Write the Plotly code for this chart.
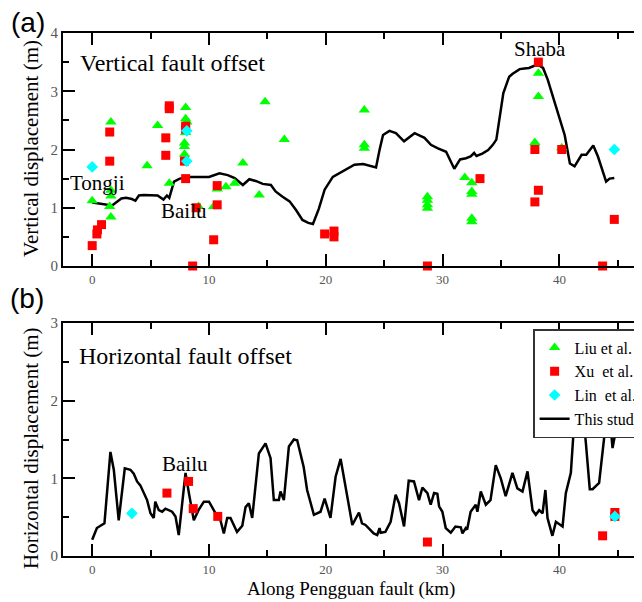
import plotly.graph_objects as go

# ---------------- data ----------------
# Panel (a): vertical offset, this study (profile)
vert_x = [0.0, 0.6, 1.2, 1.7, 2.1, 2.5, 2.9, 3.4, 3.7, 4.0, 4.4, 4.9, 5.6, 6.1, 6.4, 6.6, 7.0, 7.5, 8.3, 9.4,
          10.0, 10.3, 10.9, 11.6, 12.2, 12.9, 13.45, 14.0, 14.6, 15.3, 15.7, 16.3, 16.9, 17.45, 18.0, 18.5, 18.9,
          19.4, 19.9, 20.6, 21.4, 22.0, 22.45, 23.2, 23.9, 24.3, 24.6, 24.9, 25.45, 26.0, 26.7, 27.2, 27.6, 28.45,
          29.0, 29.6, 30.3, 31.0, 31.5, 32.0, 32.4, 32.7, 32.9, 33.4, 33.9, 34.3, 34.6, 35.2, 35.7, 36.0, 36.6,
          37.0, 37.4, 37.9, 38.3, 38.6, 39.0, 39.7, 40.45, 40.9, 41.3, 41.9, 42.3, 42.9, 43.3, 44.0, 44.3, 44.7]
vert_y = [1.09, 1.07, 1.06, 1.04, 1.10, 1.16, 1.17, 1.15, 1.12, 1.21, 1.22, 1.22, 1.21, 1.14, 1.21, 1.17, 1.45, 1.50, 1.53, 1.53,
          1.53, 1.55, 1.59, 1.56, 1.51, 1.39, 1.49, 1.46, 1.41, 1.39, 1.28, 1.19, 1.11, 0.96, 0.79, 0.74, 0.72,
          0.98, 1.31, 1.53, 1.62, 1.68, 1.74, 1.75, 1.71, 1.69, 1.99, 2.25, 2.32, 2.28, 2.14, 2.22, 2.28, 2.20,
          2.08, 2.02, 1.96, 1.67, 1.83, 1.85, 1.88, 1.94, 1.89, 1.93, 1.99, 2.08, 2.17, 2.97, 3.25, 3.30, 3.38,
          3.39, 3.40, 3.44, 3.44, 3.40, 3.20, 2.74, 2.25, 1.76, 1.71, 1.91, 1.91, 2.07, 1.88, 1.45, 1.50, 1.51]

liu_v_x = [0.0, 1.6, 1.6, 1.6, 1.5, 1.6, 4.7, 5.6, 6.6, 8.0, 8.0, 8.1, 8.0, 7.9, 7.9, 7.9, 9.1, 10.4, 10.7, 11.45,
           12.2, 12.9, 14.3, 14.8, 16.45, 23.3, 23.3, 23.3, 28.7, 28.7, 28.7, 28.7, 31.9, 32.5, 32.5, 32.5, 32.5,
           32.5, 38.2, 38.2, 37.9, 40.2]
liu_v_y = [1.12, 2.47, 1.30, 1.20, 1.02, 0.84, 1.72, 2.41, 1.42, 2.72, 2.53, 2.47, 2.29, 2.11, 2.05, 1.92, 1.02, 1.02, 1.32, 1.36,
           1.42, 1.77, 1.22, 2.82, 2.17, 2.68, 2.08, 2.02, 1.19, 1.13, 1.05, 0.99, 1.52, 1.43, 1.28, 1.23, 0.82,
           0.76, 3.31, 2.91, 2.12, 2.03]

xu_v_x = [0.0, 0.4, 0.45, 0.8, 1.5, 1.5, 6.3, 6.3, 6.6, 6.6, 8.0, 8.0, 7.9, 8.0, 8.6, 8.9, 10.4, 10.7, 10.7,
          19.9, 20.7, 20.7, 28.7, 33.2, 38.2, 37.9, 38.2, 37.9, 40.2, 44.7, 43.7]
xu_v_y = [0.35, 0.55, 0.62, 0.71, 2.30, 1.80, 2.20, 1.90, 2.70, 2.75, 2.40, 2.35, 1.80, 1.50, 0.0, 1.00, 0.45, 1.38, 1.05,
          0.55, 0.60, 0.50, 0.0, 1.50, 3.50, 2.00, 1.30, 1.10, 2.00, 0.80, 0.0]

lin_v_x = [0.0, 8.1, 8.1, 44.7]
lin_v_y = [1.70, 2.32, 1.80, 2.00]

# Panel (b): horizontal offset, this study (profile)
horiz_x = [0.0, 0.4, 1.05, 1.56, 1.85, 2.27, 2.79, 3.27, 3.56, 3.84, 4.12, 4.7, 4.99, 5.27, 5.4, 5.7, 5.99, 6.27,
           6.84, 7.13, 7.41, 7.7, 7.99, 8.28, 8.7, 9.1, 9.56, 10.0, 10.56, 10.98, 11.27, 11.56, 11.84, 12.4,
           12.85, 13.13, 13.41, 13.7, 14.27, 14.84, 15.27, 15.55, 15.98, 16.12, 16.41, 16.84, 17.27, 17.55,
           18.1, 18.4, 18.98, 19.55, 19.9, 20.4, 20.84, 21.27, 21.7, 22.27, 22.84, 23.1, 23.4, 24.1, 24.4,
           24.6, 24.7, 25.1, 25.55, 25.98, 26.27, 26.7, 27.1, 27.55, 27.98, 28.27, 28.7, 28.98, 29.27, 29.55,
           29.7, 29.98, 30.27, 30.7, 31.1, 31.56, 31.7, 31.98, 32.1, 32.4, 32.84, 32.98, 33.27, 33.7, 34.1,
           34.55, 34.98, 35.4, 35.98, 36.4, 36.84, 37.27, 37.7, 37.98, 38.27, 38.56, 38.8, 38.98, 39.4, 39.7,
           40.27, 40.55, 40.98, 41.27, 41.56, 41.93, 42.27, 42.6, 42.84, 43.4, 44.0, 44.4, 44.55, 44.75]
horiz_y = [0.21, 0.36, 0.42, 1.34, 1.11, 0.46, 1.13, 1.11, 1.06, 0.96, 0.91, 0.72, 0.55, 0.49, 0.70, 0.59, 0.57, 0.61,
           0.57, 0.51, 0.27, 0.72, 1.07, 0.81, 0.46, 0.59, 0.70, 0.70, 0.55, 0.46, 0.29, 0.49, 0.49, 0.31,
           0.39, 0.63, 0.68, 0.49, 1.32, 1.45, 1.26, 0.72, 0.72, 0.83, 0.72, 1.41, 1.50, 1.49,
           1.15, 0.85, 0.53, 0.57, 0.74, 0.49, 1.02, 1.25, 0.89, 0.40, 0.56, 0.42, 0.40, 0.29, 0.27,
           0.36, 0.30, 0.31, 0.44, 0.79, 0.68, 0.38, 0.97, 0.96, 0.72, 0.88, 0.81, 0.66, 0.81, 0.80,
           0.64, 0.57, 0.36, 0.30, 0.38, 0.37, 0.29, 0.36, 0.34, 0.57, 0.66, 0.57, 0.83, 0.66, 0.72,
           1.17, 1.00, 0.77, 1.07, 0.87, 0.83, 1.09, 0.59, 0.53, 0.59, 0.55, 0.85, 0.49, 0.26, 0.44,
           0.38, 0.81, 1.07, 1.73, 1.77, 2.01, 1.45, 0.86, 0.86, 0.94, 1.75, 1.64, 1.39, 1.55]

xu_h_x = [6.4, 8.25, 8.65, 10.75, 28.7, 43.7, 44.75, 44.75]
xu_h_y = [0.81, 0.96, 0.61, 0.51, 0.18, 0.26, 0.56, 0.51]

lin_h_x = [3.4, 44.75]
lin_h_y = [0.55, 0.51]

series_names = ["Liu et al.", "Xu  et al.", "Lin  et al.", "This study"]
x_ticks = [0, 10, 20, 30, 40]

# ---------------- styling ----------------
SERIF = "Liberation Serif, Times New Roman, serif"
SANS = "Liberation Sans, Arial, sans-serif"
GREEN, RED, CYAN = "#00ff00", "#ff0000", "#00ffff"

fig = go.Figure()

# Panel (a)
fig.add_trace(go.Scatter(x=vert_x, y=vert_y, mode="lines", name=series_names[3],
                         line=dict(color="black", width=2.5), xaxis="x", yaxis="y", legendrank=4))
fig.add_trace(go.Scatter(x=liu_v_x, y=liu_v_y, mode="markers", name=series_names[0], cliponaxis=False,
                         marker=dict(symbol="triangle-up", size=10, color=GREEN), xaxis="x", yaxis="y", legendrank=1))
fig.add_trace(go.Scatter(x=xu_v_x, y=xu_v_y, mode="markers", name=series_names[1], cliponaxis=False,
                         marker=dict(symbol="square", size=9, color=RED), xaxis="x", yaxis="y", legendrank=2))
fig.add_trace(go.Scatter(x=lin_v_x, y=lin_v_y, mode="markers", name=series_names[2], cliponaxis=False,
                         marker=dict(symbol="diamond", size=9, color=CYAN), xaxis="x", yaxis="y", legendrank=3))

# Panel (b)
fig.add_trace(go.Scatter(x=horiz_x, y=horiz_y, mode="lines", name=series_names[3], showlegend=False,
                         line=dict(color="black", width=2.5), xaxis="x2", yaxis="y2"))
fig.add_trace(go.Scatter(x=xu_h_x, y=xu_h_y, mode="markers", name=series_names[1], showlegend=False, cliponaxis=False,
                         marker=dict(symbol="square", size=9, color=RED), xaxis="x2", yaxis="y2"))
fig.add_trace(go.Scatter(x=lin_h_x, y=lin_h_y, mode="markers", name=series_names[2], showlegend=False, cliponaxis=False,
                         marker=dict(symbol="diamond", size=9, color=CYAN), xaxis="x2", yaxis="y2"))

common_x = dict(range=[-2.5, 47.5], tickvals=x_ticks, showline=True, linewidth=2, linecolor="black",
                mirror="ticks", ticks="inside", ticklen=12, tickwidth=2, tickcolor="black",
                minor=dict(dtick=5, tick0=0, ticks="inside", ticklen=6, tickwidth=2, tickcolor="black"),
                showgrid=False, zeroline=False,
                tickfont=dict(family=SERIF, size=13, color="#555555"))
common_y = dict(showline=True, linewidth=2, linecolor="black", mirror="ticks", ticks="inside",
                ticklen=12, tickwidth=2, tickcolor="black", dtick=1,
                minor=dict(dtick=0.5, ticks="inside", ticklen=6, tickwidth=2, tickcolor="black"),
                showgrid=False, zeroline=False, tickfont=dict(family=SERIF, size=15, color="#555555"))

fig.update_layout(
    width=642, height=602,
    margin=dict(l=55, r=3, t=25, b=54, autoexpand=False),
    paper_bgcolor="white", plot_bgcolor="white",
    xaxis=dict(domain=[0, 1], anchor="y", **common_x),
    yaxis=dict(domain=[0.5545, 1], anchor="x", range=[0, 4], **common_y),
    xaxis2=dict(domain=[0, 1], anchor="y2", **common_x),
    yaxis2=dict(domain=[0, 0.4455], anchor="x2", range=[0, 3], **common_y),
    legend=dict(x=0.805, y=0.434, xanchor="left", yanchor="top", bgcolor="white",
                bordercolor="#333333", borderwidth=1.5, font=dict(family=SERIF, size=16, color="black"),
                tracegroupgap=0, itemwidth=30),
    font=dict(family=SERIF, color="black"),
)

ann = []
def add_text(text, x, y, size, xref="x", yref="y", angle=0, family=SERIF):
    ann.append(dict(text=text, x=x, y=y, xref=xref, yref=yref, showarrow=False, textangle=angle,
                    xanchor="center", yanchor="middle", font=dict(family=family, size=size, color="black")))

add_text("Vertical fault offset", 6.9, 3.49, 24)
add_text("Tongji", 0.47, 1.43, 21)
add_text("Bailu", 7.9, 0.95, 21)
add_text("Shaba", 38.3, 3.73, 21)
add_text("Horizontal fault offset", 8.0, 2.58, 24, xref="x2", yref="y2")
add_text("Bailu", 7.95, 1.19, 21, xref="x2", yref="y2")
add_text("(a)", -0.060, 1.021, 28, xref="paper", yref="paper", family=SANS)
add_text("(b)", -0.062, 0.493, 28, xref="paper", yref="paper", family=SANS)
add_text("Vertical displacement (m)", -0.055, 0.780, 21, xref="paper", yref="paper", angle=-90)
add_text("Horizontal displacement (m)", -0.055, 0.2065, 21, xref="paper", yref="paper", angle=-90)
ann.append(dict(text="Along Pengguan fault (km)", x=0.493, y=-0.088, xref="paper", yref="paper",
                showarrow=False, xanchor="center", yanchor="bottom",
                font=dict(family=SERIF, size=19, color="black")))
fig.update_layout(annotations=ann)

fig.write_html("out.html")
